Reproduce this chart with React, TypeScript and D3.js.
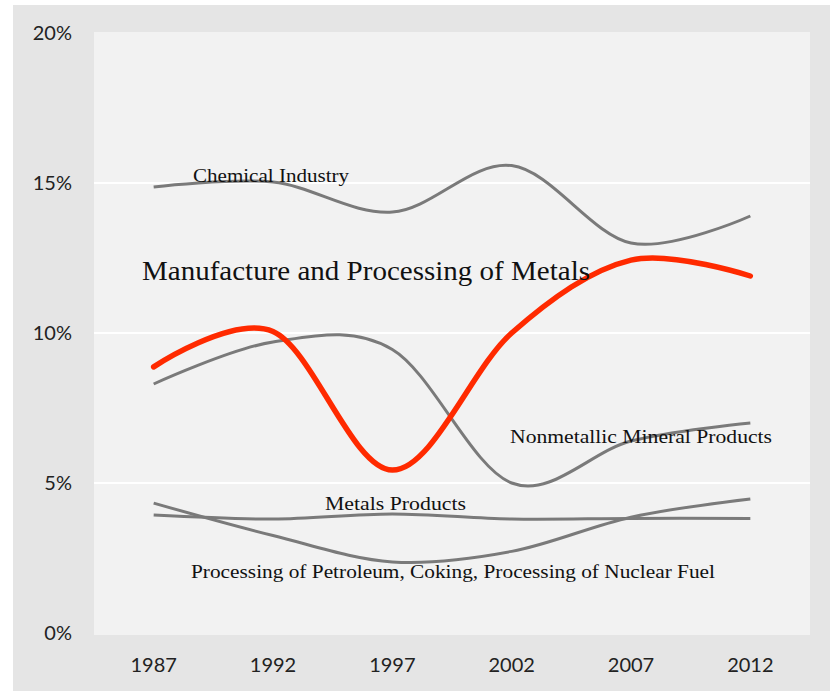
import React from "react";
import * as d3 from "d3";

const years = ["1987", "1992", "1997", "2002", "2007", "2012"];
const chemical = [14.87, 15.03, 14.03, 15.58, 13.0, 13.9];
const metals = [8.87, 10.05, 5.43, 10.0, 12.43, 11.9];
const nonmetallic = [8.3, 9.7, 9.45, 5.0, 6.4, 7.0];
const metalProducts = [3.93, 3.8, 3.97, 3.8, 3.82, 3.82];
const petroleum = [4.33, 3.25, 2.37, 2.72, 3.86, 4.47];
const yTicks = [0, 5, 10, 15, 20];

const grayLines = [chemical, nonmetallic, metalProducts, petroleum];

const labels = [
  { text: "Chemical Industry", x: 193, y: 182, size: 19, w: 156 },
  { text: "Nonmetallic Mineral Products", x: 510, y: 443, size: 19, w: 262 },
  { text: "Metals Products", x: 325, y: 510, size: 19, w: 141 },
  { text: "Processing of Petroleum, Coking, Processing of Nuclear Fuel", x: 191, y: 578, size: 19, w: 524 },
];

export default function App() {
  const W = 830, H = 691;
  const x = d3.scalePoint<string>().domain(years).range([94, 810]).padding(0.5);
  const y = d3.scaleLinear().domain([0, 20]).range([633, 33]);
  const line = d3
    .line<number>()
    .x((_, i) => x(years[i]) as number)
    .y((v) => y(v))
    .curve(d3.curveCatmullRom.alpha(0));

  return (
    <svg width={W} height={H} style={{ position: "absolute", left: 0, top: 0, display: "block" }}>
      <rect x={0} y={0} width={W} height={H} fill="#ffffff" />
      <rect x={13} y={5} width={W - 13} height={H - 5} fill="#e5e5e5" />
      <rect x={94} y={32} width={716} height={603} fill="#f2f2f2" />
      {yTicks.map((t) => (
        <g key={t}>
          {t > 0 && t < 20 && (
            <line x1={94} x2={810} y1={y(t)} y2={y(t)} stroke="#ffffff" strokeWidth={2} />
          )}
          <text
            x={72}
            y={y(t)}
            dy="0.35em"
            textAnchor="end"
            fontFamily="Lato, 'Open Sans', sans-serif"
            fontSize={20}
            fill="#222"
          >
            {t}%
          </text>
        </g>
      ))}
      {years.map((yr) => (
        <text
          key={yr}
          x={x(yr)}
          y={672}
          textAnchor="middle"
          fontFamily="Lato, 'Open Sans', sans-serif"
          fontSize={20}
          fill="#222"
        >
          {yr}
        </text>
      ))}
      {grayLines.map((s, i) => (
        <path key={i} d={line(s) || ""} fill="none" stroke="#7a7a7a" strokeWidth={3} />
      ))}
      <path d={line(metals) || ""} fill="none" stroke="#ff2a00" strokeWidth={5.5} strokeLinecap="round" />
      {labels.map((l) => (
        <text
          key={l.text}
          x={l.x}
          y={l.y}
          fontFamily="'Liberation Serif', 'Times New Roman', serif"
          fontSize={l.size}
          fill="#111"
          textLength={l.w}
          lengthAdjust="spacingAndGlyphs"
        >
          {l.text}
        </text>
      ))}
      <text
        x={142}
        y={280}
        fontFamily="'Liberation Serif', 'Times New Roman', serif"
        fontSize={27}
        fill="#111"
        textLength={448}
        lengthAdjust="spacingAndGlyphs"
      >
        Manufacture and Processing of Metals
      </text>
    </svg>
  );
}
